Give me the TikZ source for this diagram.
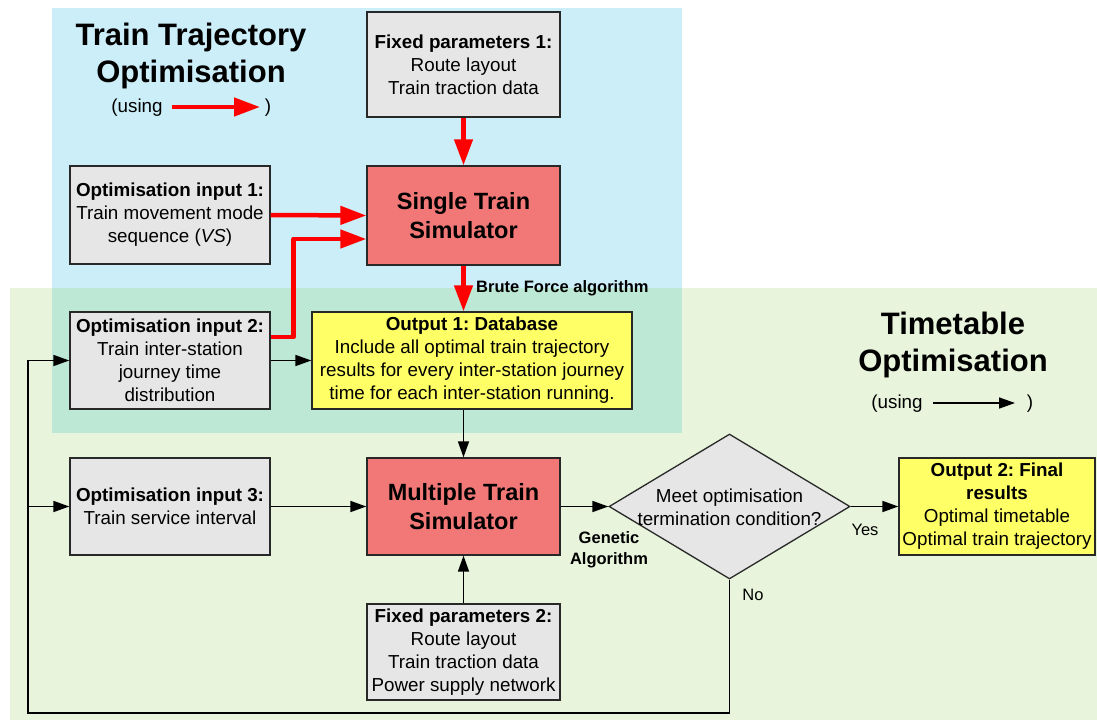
\documentclass[tikz,border=0pt]{standalone}
\usepackage{fontspec}
\setmainfont{Liberation Sans}
\usetikzlibrary{arrows.meta,shapes.geometric}
\definecolor{bluereg}{RGB}{204,238,249}
\definecolor{greenreg}{RGB}{232,245,220}
\definecolor{overreg}{RGB}{190,232,214}
\definecolor{boxgray}{RGB}{230,230,230}
\definecolor{boxred}{RGB}{242,120,120}
\definecolor{boxyellow}{RGB}{255,255,102}
\definecolor{edgegray}{RGB}{40,40,40}
\definecolor{arrred}{RGB}{255,0,0}
\frenchspacing
\begin{document}
\begin{tikzpicture}[x=1pt,y=-1pt,
 box/.style={draw=edgegray, line width=1.3pt, inner sep=0pt, align=center, font=\fontsize{18.8}{23}\selectfont},
 graybox/.style={box, fill=boxgray},
 redbox/.style={box, fill=boxred, font=\fontsize{23.5}{29}\selectfont\bfseries},
 yelbox/.style={box, fill=boxyellow},
 blk/.style={line width=1.6pt, -{Triangle[length=16pt,width=11pt]}},
 redarr/.style={arrred, line width=4.5pt, line join=round, -{Triangle[length=26pt,width=18pt]}},
 lbl/.style={font=\fontsize{16.5}{21}\selectfont, inner sep=0pt},
 txt/.style={font=\fontsize{18.8}{23}\selectfont, inner sep=0pt, align=center},
 ttl/.style={font=\fontsize{31}{37}\selectfont\bfseries, anchor=base, inner sep=0pt},
]
\useasboundingbox (0,0) rectangle (1097,722);
% regions
\fill[bluereg] (52,8) rectangle (682,433);
\fill[greenreg] (10,288) rectangle (1097,720);
\fill[overreg] (52,288) rectangle (682,433);

% titles
\node[ttl] (t1a) at (191,46) {Train Trajectory};
\node[ttl] (t1b) at (191,83) {Optimisation};
\node[txt] (u1) at (137,108) {(using};
\coordinate (la) at (172,107);
\coordinate (lb) at (260,107);
\node[txt] (p1) at (268,108) {)};
\draw[redarr] (la) -- (lb);

\node[ttl] (t2a) at (953,334) {Timetable};
\node[ttl] (t2b) at (953,371) {Optimisation};
\node[txt] (u2) at (897,404) {(using};
\coordinate (lc) at (933,403);
\coordinate (ld) at (1015,403);
\node[txt] (p2) at (1030,404) {)};
\draw[blk] (lc) -- (ld);

% boxes
\node[graybox, minimum width=193pt, minimum height=105pt] (fp1) at (463.5,64.5)
  {\textbf{Fixed parameters 1:}\\Route layout\\Train traction data};
\node[redbox, minimum width=193pt, minimum height=99pt] (sts) at (463.5,215.5)
  {Single Train\\Simulator};
\node[graybox, minimum width=200pt, minimum height=98pt] (oi1) at (170,215)
  {\textbf{Optimisation input 1:}\\Train movement mode\\sequence (\textit{VS})};
\node[graybox, minimum width=200pt, minimum height=97pt] (oi2) at (170,360.5)
  {\textbf{Optimisation input 2:}\\Train inter-station\\journey time\\distribution};
\node[yelbox, minimum width=320pt, minimum height=97pt] (out1) at (472,360.5)
  {\textbf{Output 1: Database}\\Include all optimal train trajectory\\results for every inter-station journey\\time for each inter-station running.};
\node[graybox, minimum width=200pt, minimum height=97pt] (oi3) at (170,506.5)
  {\textbf{Optimisation input 3:}\\Train service interval};
\node[redbox, minimum width=193pt, minimum height=97pt] (mts) at (463.5,506.5)
  {Multiple Train\\Simulator};
\node[diamond, draw=edgegray, line width=1.3pt, fill=boxgray, minimum width=241pt, minimum height=145pt, inner sep=0pt] (dia) at (729.5,506.5) {};
\node[txt] (diat) at ([yshift=-1pt]dia.center) {Meet optimisation\\termination condition?};
\node[yelbox, minimum width=196pt, minimum height=97pt] (out2) at (997,506.5)
  {\textbf{Output 2: Final}\\\textbf{results}\\Optimal timetable\\Optimal train trajectory};
\node[graybox, minimum width=193pt, minimum height=96pt] (fp2) at (463.5,652)
  {\textbf{Fixed parameters 2:}\\Route layout\\Train traction data\\Power supply network};

% red connectors
\draw[redarr] (fp1.south) -- (sts.north);
\draw[redarr] (oi1.east) -- (sts.west);
\draw[redarr] ([yshift=23.5pt]oi2.east) -- ++(23,0) |- ([yshift=-23.5pt]sts.west);
\draw[redarr] (sts.south) -- (sts.south |- out1.north);
\node[lbl, font=\fontsize{16.5}{21}\selectfont\bfseries, anchor=west] (bf) at (476,288) {Brute Force algorithm};

% black connectors
\draw[blk] (oi2.east) -- (out1.west);
\draw[blk] (out1.south -| mts.north) -- (mts.north);
\draw[blk] (oi3.east) -- (mts.west);
\draw[blk] (mts.east) -- (dia.west);
\draw[blk] (dia.east) -- (out2.west);
\draw[blk] (fp2.north) -- (mts.south);
\coordinate (lp) at (28,713);
\coordinate (jn) at (28,506.5);
\draw[blk] (dia.south) |- (lp) |- (oi2.west);
\draw[blk] (jn) -- (oi3.west);

\node[lbl, font=\fontsize{16.5}{21}\selectfont\bfseries, align=center] (ga) at (609,550) {Genetic\\Algorithm};
\node[lbl] (yes) at (865,530) {Yes};
\node[lbl] (no) at (753,595) {No};
\end{tikzpicture}
\end{document}
